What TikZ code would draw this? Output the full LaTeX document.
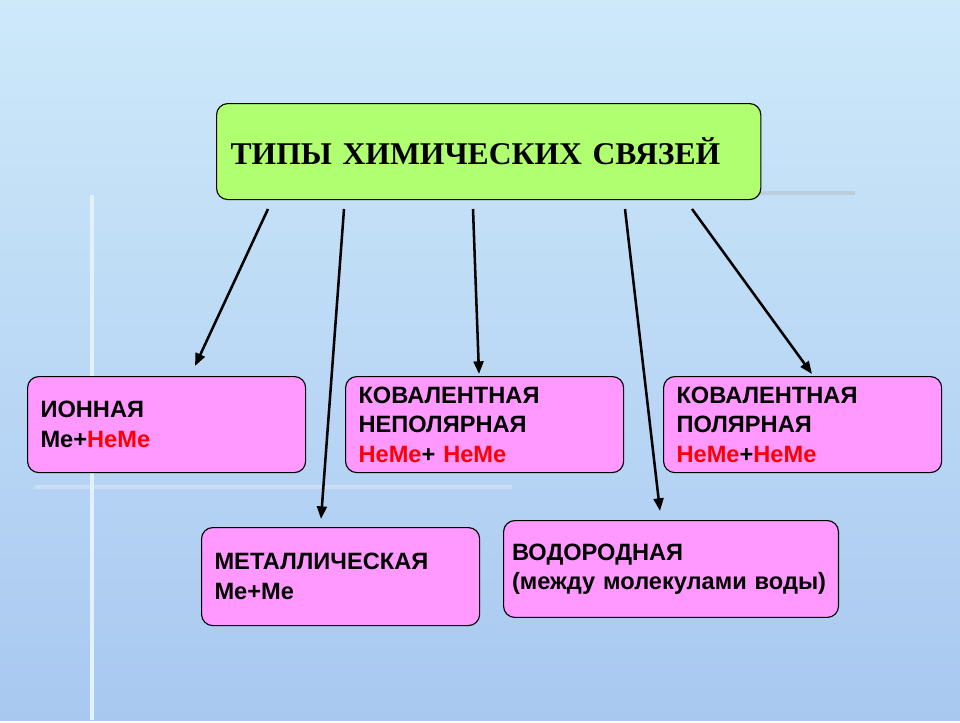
\documentclass[tikz,border=0pt]{standalone}
\usepackage{fontspec}
\setmainfont{Liberation Sans}
\newfontfamily\titlefont{Liberation Serif}
\usetikzlibrary{arrows.meta}
\definecolor{bgtop}{HTML}{CDE9FA}
\definecolor{bgbot}{HTML}{A9C8F0}
\definecolor{headgreen}{HTML}{B0FF70}
\definecolor{boxpink}{HTML}{FF99FF}
\definecolor{nmred}{HTML}{FF0000}
\begin{document}
\begin{tikzpicture}[x=0.025cm, y=-0.025cm,
  kind/.style={draw=black, thick, rounded corners=8pt, fill=boxpink, anchor=north west,
               align=left, text width=#1, inner xsep=8pt,
               font=\bfseries\fontsize{16.8pt}{21pt}\selectfont},
  kind/.default=6cm,
  link/.style={-{Triangle[length=9pt,width=7pt]}, line width=1.8pt},
]
  % background
  \shade[top color=bgtop, bottom color=bgbot] (0,0) rectangle (960,720);
  \draw[gray!25!bgtop, line width=2.5pt] (760,193) -- (855,193);
  \draw[white!40!bgbot, line width=2.5pt] (35,487) -- (512,487);
  \draw[white!40!bgtop, line width=3pt] (92,195) -- (92,720);
  % heading
  \node[draw=black, thick, rounded corners=8pt, fill=headgreen, minimum width=13.6cm,
        minimum height=2.4cm, anchor=north west, text width=12.9cm, align=left,
        inner xsep=10pt, font=\titlefont\bfseries\fontsize{22.5pt}{26pt}\selectfont]
    (types) at (216,103) {ТИПЫ ХИМИЧЕСКИХ СВЯЗЕЙ};
  % kinds of bonds
  \node[kind=6.3cm, minimum height=2.4cm, minimum width=6.95cm] (ionic) at (27,376)
    {ИОННАЯ\\Ме+\textcolor{nmred}{НеМе}};
  \node[kind=6.3cm, minimum height=2.4cm, minimum width=6.95cm] (nonpolar) at (345,376)
    {КОВАЛЕНТНАЯ\\НЕПОЛЯРНАЯ\\\textcolor{nmred}{НеМе}+ \textcolor{nmred}{НеМе}};
  \node[kind=6.3cm, minimum height=2.4cm, minimum width=6.95cm] (polar) at (663,376)
    {КОВАЛЕНТНАЯ\\ПОЛЯРНАЯ\\\textcolor{nmred}{НеМе}+\textcolor{nmred}{НеМе}};
  \node[kind=6.3cm, minimum height=2.45cm, minimum width=6.95cm] (metal) at (201,527)
    {МЕТАЛЛИЧЕСКАЯ\\Ме+Ме};
  \node[kind=7.95cm, inner xsep=6pt, minimum height=2.42cm, minimum width=8.3cm] (hydro)
    at (503,520) {ВОДОРОДНАЯ\\(между молекулами воды)};
  % arrow ends
  \coordinate (s1) at (268,209); \coordinate (e1) at (195,366);
  \coordinate (s2) at (344,209); \coordinate (e2) at (321,519);
  \coordinate (s3) at (473,209); \coordinate (e3) at (479,374);
  \coordinate (s4) at (625,209); \coordinate (e4) at (660,511);
  \coordinate (s5) at (692,209); \coordinate (e5) at (812,374);
  \foreach \i in {1,...,5} \draw[link] (s\i) -- (e\i);
\end{tikzpicture}
\end{document}
